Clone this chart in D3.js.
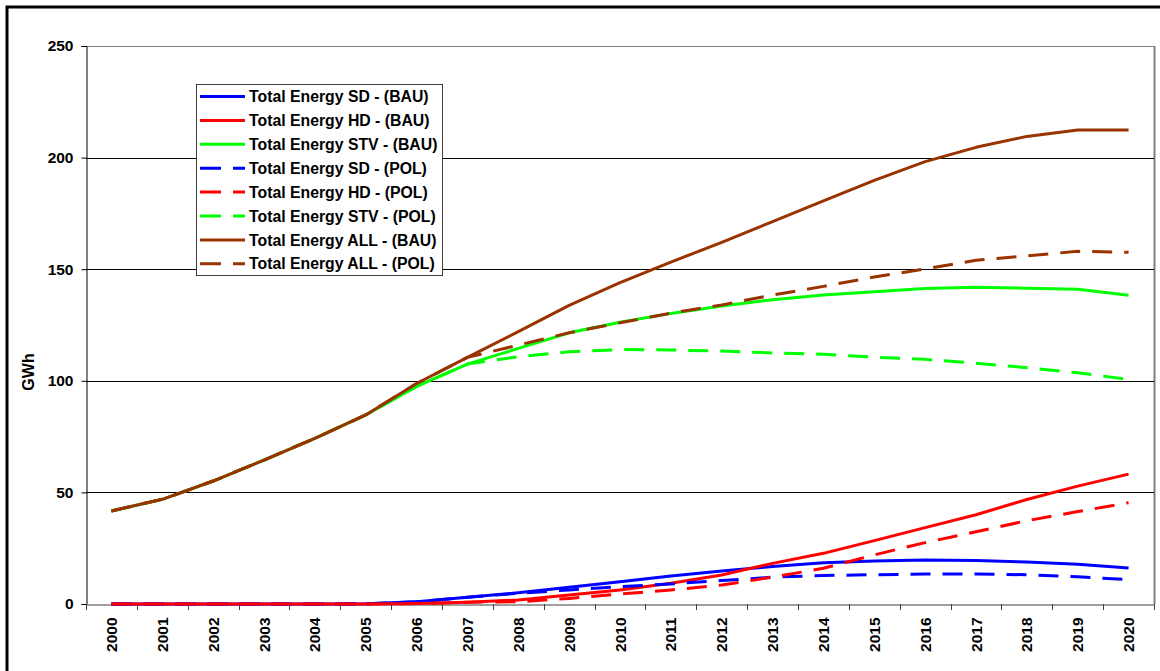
<!DOCTYPE html>
<html><head><meta charset="utf-8">
<script src="https://cdn.jsdelivr.net/npm/d3@7"></script>
<style>
html,body{margin:0;padding:0;background:#fff;}
text{font-family:"Liberation Sans",Arial,sans-serif;font-weight:bold;fill:#000;}
</style></head>
<body><svg id="c" width="1160" height="671"></svg>
<script>
const years = [2000,2001,2002,2003,2004,2005,2006,2007,2008,2009,2010,2011,2012,2013,2014,2015,2016,2017,2018,2019,2020];
const yTicks = [0,50,100,150,200,250];
const sdBAU  = [0,0,0,0,0,0.1,1,3,5,7.5,10,12.5,14.8,16.8,18.5,19.3,19.7,19.5,18.8,17.8,16.1];
const hdBAU  = [0,0,0,0,0,0,0.2,0.8,1.8,4,6.3,9.3,13,18.2,22.7,28.4,34.2,40,46.8,52.8,58.2];
const stvBAU = [41.7,46.9,55.1,64.5,74.2,84.7,97.5,107.5,114.5,121.5,126.2,130.2,133.5,136.3,138.4,139.9,141.3,141.9,141.5,141,138.3];
const sdPOL  = [0,0,0,0,0,0.1,1,3,4.8,6.3,7.8,9,10.5,12,12.8,13.1,13.4,13.4,13.1,12.2,10.9];
const hdPOL  = [0,0,0,0,0,0,0.2,0.8,1,2.5,4.5,6.3,8.5,12,16,22,27.5,32.4,37.3,41.4,45.4];
const stvPOL = [41.7,46.9,55.1,64.5,74.2,84.7,97.5,107.5,110.8,113,114,113.8,113.3,112.5,111.9,110.6,109.6,107.9,105.9,103.6,100.6];
const allBAU = [41.7,46.9,55.1,64.5,74.2,84.7,98.8,110.5,122,133.8,144,153.2,162,171.3,180.6,189.8,198.2,204.6,209.5,212.4,212.4];
const allPOL = [41.7,46.9,55.1,64.5,74.2,84.7,98.8,110.5,116,121.5,126,130.3,134,138.4,142.3,146.5,150.1,154,156,158,157.6];
const seriesNames = ["Total Energy SD - (BAU)","Total Energy HD - (BAU)","Total Energy STV - (BAU)","Total Energy SD - (POL)","Total Energy HD - (POL)","Total Energy STV - (POL)","Total Energy ALL - (BAU)","Total Energy ALL - (POL)"];
const seriesValues = [sdBAU,hdBAU,stvBAU,sdPOL,hdPOL,stvPOL,allBAU,allPOL];
const seriesColors = ["#0000FF","#FF0000","#00FF00","#0000FF","#FF0000","#00FF00","#993300","#993300"];
const seriesDashed = [false,false,false,true,true,true,false,true];

const svg = d3.select("#c");
const L=86,R=1154,T=46,B=604;
const x = d3.scaleBand().domain(years).range([L,R]);
const y = d3.scaleLinear().domain([0,250]).range([B,T]);

// outer frame
svg.append("rect").attr("x",7).attr("y",7).attr("width",1170).attr("height",700)
  .attr("fill","none").attr("stroke","#000").attr("stroke-width",3);

// plot border (top and right)
svg.append("line").attr("x1",L).attr("x2",R).attr("y1",T+0.5).attr("y2",T+0.5).attr("stroke","#808080");
svg.append("line").attr("x1",R+0.5).attr("x2",R+0.5).attr("y1",T).attr("y2",B).attr("stroke","#808080").attr("stroke-width",2);

// gridlines
svg.append("g").selectAll("line").data(yTicks.filter(d=>d>0&&d<250)).join("line")
  .attr("x1",L).attr("x2",R).attr("y1",d=>Math.round(y(d))+0.5).attr("y2",d=>Math.round(y(d))+0.5)
  .attr("stroke","#000").attr("stroke-width",1);

// y axis
const ya = svg.append("g").attr("transform",`translate(${L+0.5},0)`)
  .call(d3.axisLeft(y).tickValues(yTicks).tickSize(5).tickPadding(8).tickFormat(d3.format("d")));
ya.select(".domain").attr("stroke","#000");
ya.selectAll(".tick line").attr("stroke","#000");
ya.selectAll("text").style("font-size","15.5px").style("font-family","Liberation Sans, Arial").style("font-weight","bold");

// x axis
const xa = svg.append("g").attr("transform",`translate(0,${B+0.5})`)
  .call(d3.axisBottom(x).tickSize(0).tickPadding(0));
xa.select(".domain").attr("stroke","#404040");
xa.selectAll("text").attr("transform","rotate(-90)").attr("x",-13).attr("y",0).attr("dy","0.36em")
  .attr("text-anchor","end").style("font-size","15.5px").style("font-family","Liberation Sans, Arial").style("font-weight","bold");
const bounds = years.map(d=>x(d)).concat([R]);
svg.append("g").selectAll("line").data(bounds).join("line")
  .attr("x1",d=>Math.round(d)+0.5).attr("x2",d=>Math.round(d)+0.5).attr("y1",B).attr("y2",B+6)
  .attr("stroke","#404040");

// y title
svg.append("text").attr("transform","translate(34,372) rotate(-90)").attr("text-anchor","middle")
  .style("font-size","16px").text("GWh");

// lines
const line = d3.line().x((d,i)=>x(years[i])+x.bandwidth()/2).y(d=>y(d));
seriesValues.forEach((vals,k)=>{
  svg.append("path").attr("d",line(vals)).attr("fill","none")
    .attr("stroke",seriesColors[k]).attr("stroke-width",3)
    .attr("stroke-linejoin","round")
    .attr("stroke-dasharray",seriesDashed[k]?"20 12":null);
});

// legend
const lg = svg.append("g");
lg.append("rect").attr("x",196.5).attr("y",84.5).attr("width",246).attr("height",191)
  .attr("fill","#fff").attr("stroke","#404040").attr("stroke-width",1);
seriesNames.forEach((n,k)=>{
  const cy = 96.5 + k*23.9;
  lg.append("line").attr("x1",200).attr("x2",245).attr("y1",cy).attr("y2",cy)
    .attr("stroke",seriesColors[k]).attr("stroke-width",3)
    .attr("stroke-dasharray",seriesDashed[k]?"21 12":null);
  lg.append("text").attr("x",249).attr("y",cy).attr("dy","0.36em").style("font-size","15.8px").text(n);
});
</script></body></html>
